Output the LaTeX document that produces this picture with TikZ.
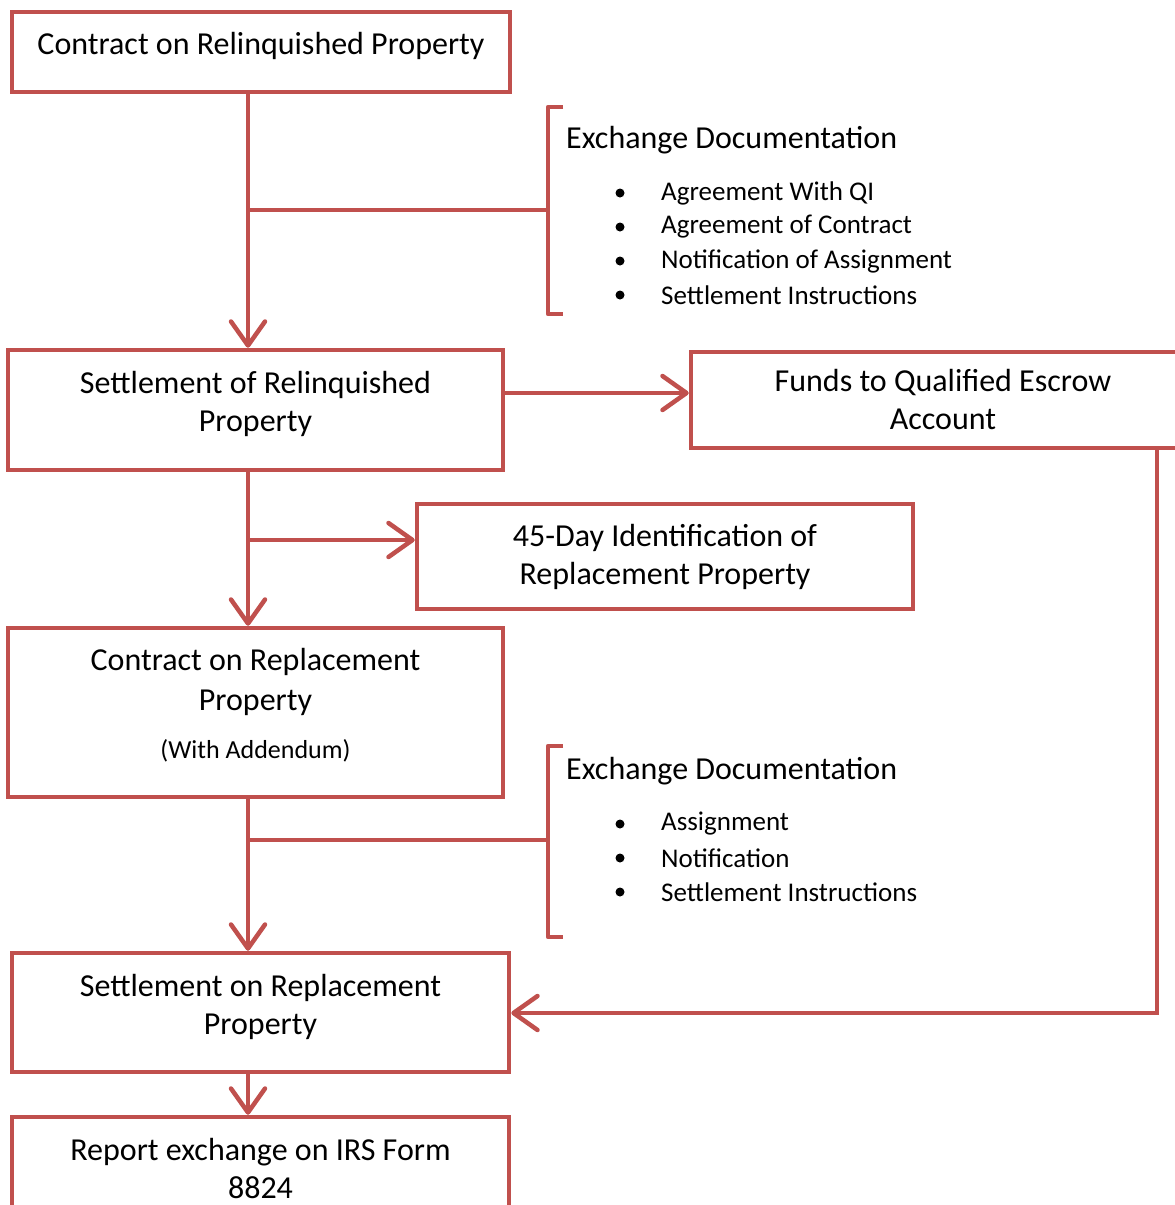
\documentclass[tikz,border=0pt]{standalone}
\usepackage{fontspec}
\setmainfont{Carlito}
\usepackage{tikz}
\usetikzlibrary{arrows.meta}

\definecolor{boxred}{RGB}{192,80,77}
\newcommand{\boxfont}{\fontsize{32}{38}\selectfont}
\newcommand{\itemfont}{\fontsize{27}{30}\selectfont}
\newcommand{\notefont}{\fontsize{26}{28}\selectfont}

\tikzset{
  stepbox/.style={draw=boxred, line width=4.5pt, fill=white, align=center, inner sep=0pt, font=\boxfont},
  flow/.style={draw=boxred, line width=4.5pt, -{Straight Barb[length=24pt,width=34pt,round]}},
  link/.style={draw=boxred, line width=4.5pt},
  bracketline/.style={draw=boxred, line width=4.5pt, line join=round},
  dochead/.style={anchor=west, inner sep=0pt, font=\boxfont},
  docitem/.style={anchor=west, inner sep=0pt, font=\itemfont},
  dot/.style={circle, fill=black, inner sep=0pt, minimum size=9pt}
}

\begin{document}
\begin{tikzpicture}[x=1pt,y=1pt,yscale=-1,xscale=1]
\useasboundingbox (0,0) rectangle (1175,1205);

% Boxes
\node[stepbox, minimum width=498, minimum height=80, text depth=18pt] (relcontract) at (261,52) {Contract on Relinquished Property};
\node[stepbox, minimum width=495, minimum height=120, text depth=16.5pt] (relsettle) at (255.5,410) {Settlement of Relinquished\\Property};
\node[stepbox, minimum width=504, minimum height=96] (escrow) at (943,400) {Funds to Qualified Escrow\\Account};
\node[stepbox, minimum width=496, minimum height=105] (ident) at (665,556.5) {45-Day Identification of\\Replacement Property};
\node[stepbox, minimum width=495, minimum height=169, text depth=18.5pt] (repcontract) at (255.5,712.5) {Contract on Replacement\\[2pt]Property\\[10pt]{\notefont (With Addendum)}};
\node[stepbox, minimum width=497, minimum height=119, text depth=16.5pt] (repsettle) at (260.5,1012.5) {Settlement on Replacement\\Property};
\node[stepbox, minimum width=497, minimum height=102] (report) at (260.5,1168) {Report exchange on IRS Form\\8824};

% Helper coordinates
\coordinate (trunk) at (248,0);
\coordinate (docsA) at (548,210);
\coordinate (docsB) at (548,840);
\coordinate (identrow) at (0,540);
\coordinate (escrowrow) at (0,393);
\coordinate (turn) at (1157,1013);

% Main flow
\draw[flow] (relcontract.south -| trunk) -- (relsettle.north -| trunk);
\draw[flow] (relsettle.south -| trunk) -- (repcontract.north -| trunk);
\draw[flow] (repcontract.south -| trunk) -- (repsettle.north -| trunk);
\draw[flow] (repsettle.south -| trunk) -- (report.north -| trunk);

% Side branches
\draw[flow] (relsettle.east |- escrowrow) -- (escrow.west |- escrowrow);
\draw[flow] (trunk |- identrow) -- (ident.west |- identrow);
\draw[flow] (escrow.south -| turn) |- (repsettle.east |- turn);
\draw[link] (trunk |- docsA) -- (docsA);
\draw[link] (trunk |- docsB) -- (docsB);

% Brackets
\draw[bracketline] (563,107) -- (548,107) -- (548,314) -- (563,314);
\draw[bracketline] (563,746) -- (548,746) -- (548,937) -- (563,937);

% Exchange documentation lists
\node[dochead] (headA) at (566,140) {Exchange Documentation};
\foreach \entry [count=\i] in {Agreement With QI, Agreement of Contract, Notification of Assignment, Settlement Instructions}{
  \node[dot] (dotA\i) at (620,159+34*\i) {};
  \node[docitem] (docA\i) at (661,159+34*\i) {\entry};
}
\node[dochead] (headB) at (566,771) {Exchange Documentation};
\foreach \entry [count=\i] in {Assignment, Notification, Settlement Instructions}{
  \node[dot] (dotB\i) at (620,790+34*\i) {};
  \node[docitem] (docB\i) at (661,790+34*\i) {\entry};
}

\end{tikzpicture}
\end{document}
